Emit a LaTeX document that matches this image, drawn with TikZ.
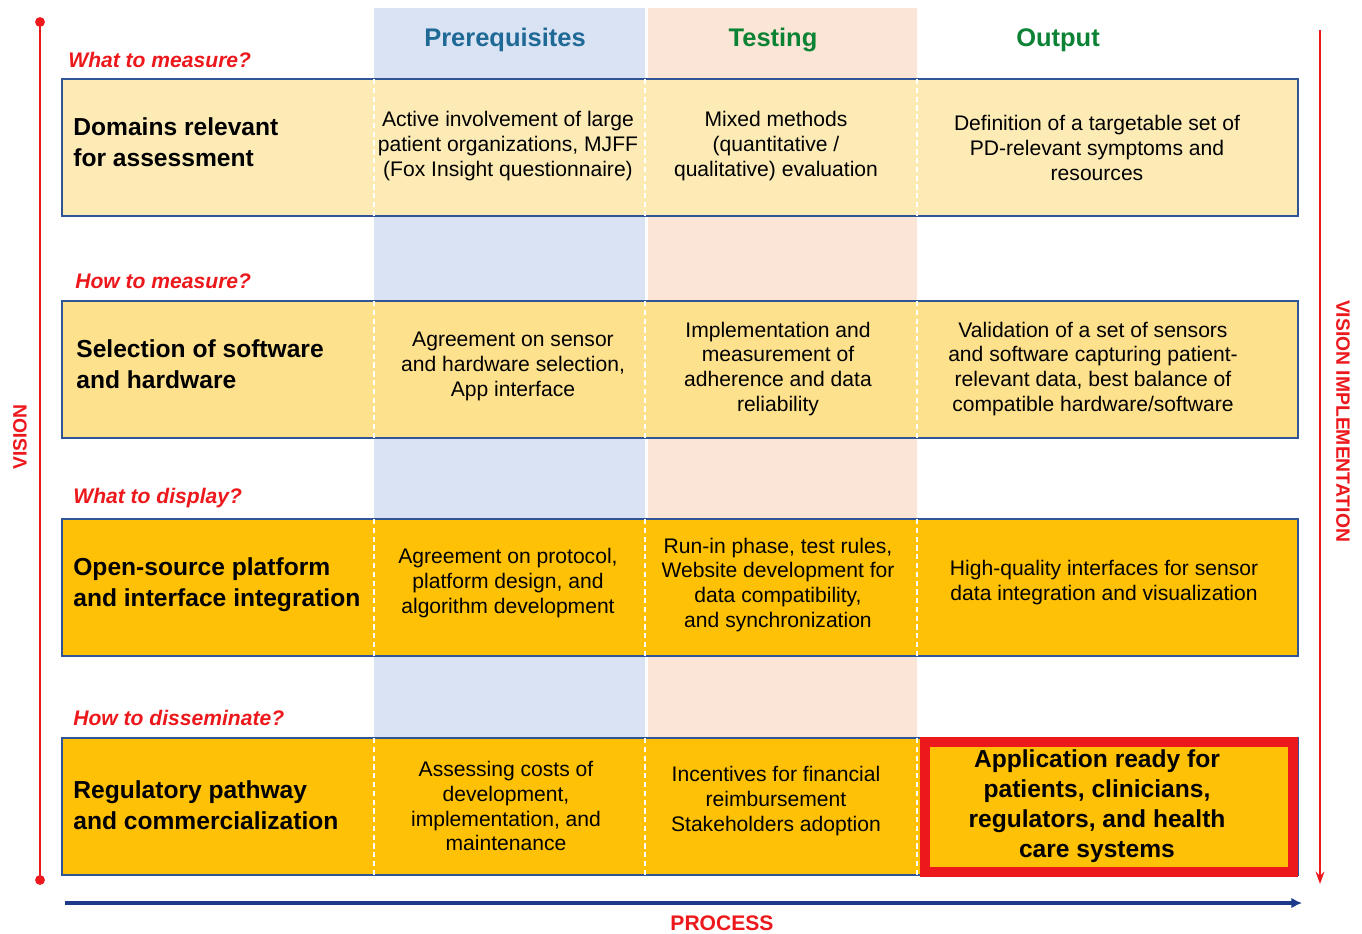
\documentclass[tikz,border=0pt]{standalone}
\usepackage{fontspec}
\setmainfont{Liberation Sans}
\usetikzlibrary{arrows.meta}

\definecolor{vred}{RGB}{236,24,28}
\definecolor{prereqbg}{RGB}{218,227,243}
\definecolor{testbg}{RGB}{251,229,214}
\definecolor{rowa}{RGB}{253,235,182}
\definecolor{rowb}{RGB}{254,225,140}
\definecolor{rowc}{RGB}{255,193,5}
\definecolor{rowedge}{RGB}{47,85,151}
\definecolor{headblue}{RGB}{31,105,150}
\definecolor{headgreen}{RGB}{12,130,52}
\definecolor{procblue}{RGB}{28,58,140}

\tikzset{
	cell/.style={align=center, inner sep=0pt, font=\fontsize{12}{14.2}\selectfont},
	rowtitle/.style={anchor=west, align=left, inner sep=0pt, font=\fontsize{14}{17.6}\selectfont\bfseries},
	question/.style={anchor=west, inner sep=0pt, text=vred, font=\fontsize{12}{14}\selectfont\bfseries\itshape},
	colhead/.style={font=\fontsize{14.5}{17}\selectfont\bfseries},
	axislabel/.style={inner sep=0pt, text=vred, font=\fontsize{11}{13}\selectfont\bfseries},
}

\begin{document}
\begin{tikzpicture}[x=0.02cm, y=-0.02cm]
		\useasboundingbox (0,0) rectangle (1362,933);
		%% column backgrounds
		\fill[prereqbg] (374,8) rectangle (645,737);
		\fill[testbg] (648,8) rectangle (917,737);
		\node[colhead, text=headblue] (hpre) at (505,40) {Prerequisites};
		\node[colhead, text=headgreen] (htest) at (773,40) {Testing};
		\node[colhead, text=headgreen] (hout) at (1058,40) {Output};
		%% rows
		\foreach \y/\c in {79/rowa, 301/rowb, 519/rowc, 738/rowc} {
			\draw[rowedge, fill=\c, line width=0.9pt] (62,\y) rectangle (1298,\y+137);
			\foreach \x in {374, 645, 917}
				\draw[white, line width=0.9pt, dash pattern=on 3pt off 2pt] (\x,\y) -- (\x,\y+137);
		}
		\draw[vred, line width=5.6pt] (925,742) rectangle (1293,872);
		%% questions
		\node[question] (q1) at (68,60) {What to measure?};
		\node[question] (q2) at (75,281) {How to measure?};
		\node[question] (q3) at (73,498) {What to display?};
		\node[question] (q4) at (73,718) {How to disseminate?};
		%% row titles
		\node[rowtitle] (t1) at (73,142) {Domains relevant\\for assessment};
		\node[rowtitle] (t2) at (76,364) {Selection of software\\and hardware};
		\node[rowtitle] (t3) at (73,585) {Open-source platform\\and interface integration};
		\node[rowtitle] (t4) at (73,805) {Regulatory pathway\\and commercialization};
		%% prerequisites
		\node[cell] (p1) at (508,146) {Active involvement of large\\patient organizations, MJFF\\(Fox Insight questionnaire)};
		\node[cell] (p2) at (513,366) {Agreement on sensor\\and hardware selection,\\App interface};
		\node[cell] (p3) at (508,583) {Agreement on protocol,\\platform design, and\\algorithm development};
		\node[cell] (p4) at (506,806) {Assessing costs of\\development,\\implementation, and\\maintenance};
		%% testing
		\node[cell] (s1) at (776,146) {Mixed methods\\(quantitative /\\qualitative) evaluation};
		\node[cell] (s2) at (778,369) {Implementation and\\measurement of\\adherence and data\\reliability};
		\node[cell] (s3) at (778,585) {Run-in phase, test rules,\\Website development for\\data compatibility,\\and synchronization};
		\node[cell] (s4) at (776,801) {Incentives for financial\\reimbursement\\Stakeholders adoption};
		%% output
		\node[cell] (o1) at (1097,148) {Definition of a targetable set of\\PD-relevant symptoms and\\resources};
		\node[cell] (o2) at (1093,369) {Validation of a set of sensors\\and software capturing patient-\\relevant data, best balance of\\compatible hardware/software};
		\node[cell] (o3) at (1104,583) {High-quality interfaces for sensor\\data integration and visualization};
		\node[rowtitle, anchor=center, align=center, font=\fontsize{14}{17}\selectfont\bfseries] (o4) at (1097,806) {Application ready for\\patients, clinicians,\\regulators, and health\\care systems};
		%% axes
		\coordinate (vtop) at (40,22);
		\coordinate (vbot) at (40,880);
		\coordinate (itop) at (1320,30);
		\coordinate (ibot) at (1320,884);
		\coordinate (pleft) at (65,903);
		\coordinate (pright) at (1302,903);
		\draw[vred, line width=1.6pt] (vtop) -- (vbot);
		\fill[vred] (vtop) circle[radius=2.8pt] (vbot) circle[radius=2.8pt];
		\draw[vred, line width=1.4pt, -{Stealth[length=7pt,width=5pt]}] (itop) -- (ibot);
		\draw[procblue, line width=2pt, -{Latex[length=6pt,width=6pt]}] (pleft) -- (pright);
		\node[axislabel, rotate=90] (vis) at (20,437) {VISION};
		\node[axislabel, rotate=-90] (impl) at (1343,421) {VISION IMPLEMENTATION};
		\node[axislabel, font=\fontsize{12}{14}\selectfont\bfseries] (proc) at (722,923) {PROCESS};
	\end{tikzpicture}
\end{document}
